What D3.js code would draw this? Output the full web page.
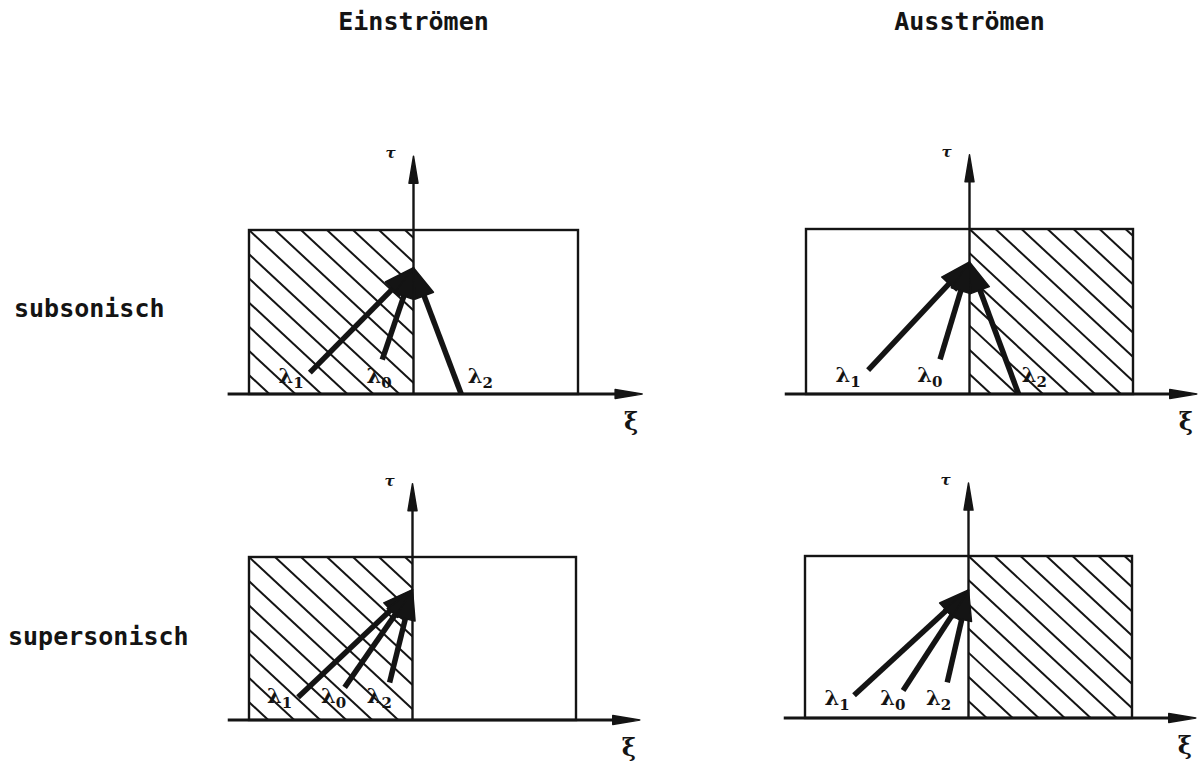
<!DOCTYPE html>
<html><head><meta charset="utf-8">
<script src="https://cdn.jsdelivr.net/npm/d3@7"></script>
<style>body{margin:0;background:#fff}</style>
</head><body><svg id="c" width="1204" height="767"></svg>
<script>
// ---- data ----
const columnTitles = ["Einströmen", "Ausströmen"];
const rowLabels = ["subsonisch", "supersonisch"];
const hatchSide = [-1, 1, -1, 1];          // -1 = hatched left half, +1 = right half
const apexTau = [0.77, 0.80, 0.80, 0.79];
const rayIndex = ["1", "0", "2"];
const rayEndXi = [[-0.63, -0.19, 0.29], [-0.62, -0.18, 0.30], [-0.70, -0.415, -0.14], [-0.70, -0.40, -0.13]];
const rayEndTau = [[0.13, 0.21, 0.0], [0.145, 0.21, 0.0], [0.14, 0.20, 0.23], [0.14, 0.17, 0.22]];
const labelXi = [[-0.82, -0.285, 0.33], [-0.82, -0.32, 0.32], [-0.89, -0.56, -0.28], [-0.88, -0.54, -0.26]];
const labelTau = [0.067, 0.073, 0.104, 0.08];
const axisXiRange = [-1.13, 1.39];
const axisTauMax = 1.45;

// ---- layout ----
const frames = [
  {l: 249, r: 578, b: 394, t: 230},
  {l: 806, r: 1133, b: 394, t: 229},
  {l: 249, r: 576, b: 720, t: 557},
  {l: 805, r: 1132, b: 718, t: 556}
];
const ink = "#141414";
const svg = d3.select("#c");

function arrowHead(g, x1, y1, x2, y2, L, w, lineW) {
  const dx = x2 - x1, dy = y2 - y1, len = Math.hypot(dx, dy);
  const ux = dx / len, uy = dy / len, nx = -uy, ny = ux;
  const bx = x2 - ux * L, by = y2 - uy * L;
  g.append("line").attr("x1", x1).attr("y1", y1).attr("x2", bx + ux * 2).attr("y2", by + uy * 2)
    .attr("stroke", ink).attr("stroke-width", lineW).attr("stroke-linecap", "butt");
  g.append("path")
    .attr("d", d3.line()([[x2, y2], [bx + nx * w, by + ny * w], [bx - nx * w, by - ny * w]]) + "Z")
    .attr("fill", ink).attr("stroke", ink).attr("stroke-width", 1.5).attr("stroke-linejoin", "round");
}

frames.forEach((f, i) => {
  const x = d3.scaleLinear().domain([-1, 1]).range([f.l, f.r]);
  const y = d3.scaleLinear().domain([0, 1]).range([f.b, f.t]);
  const g = svg.append("g");

  // hatch
  const hx0 = hatchSide[i] < 0 ? x(-1) : x(0), hx1 = hatchSide[i] < 0 ? x(0) : x(1);
  const clipId = "clip" + i;
  svg.append("clipPath").attr("id", clipId).append("rect")
    .attr("x", hx0).attr("y", y(1)).attr("width", hx1 - hx0).attr("height", y(0) - y(1));
  const hg = g.append("g").attr("clip-path", `url(#${clipId})`);
  const H = y(0) - y(1), slope = 0.93, step = 26;
  const run = H / slope;
  for (let k = -Math.ceil(run / step) * step; k <= hx1 - hx0; k += step) {
    hg.append("line")
      .attr("x1", hx0 + k).attr("y1", y(1))
      .attr("x2", hx0 + k + run).attr("y2", y(0))
      .attr("stroke", ink).attr("stroke-width", 2);
  }

  // rectangle
  g.append("rect").attr("x", x(-1)).attr("y", y(1))
    .attr("width", x(1) - x(-1)).attr("height", y(0) - y(1))
    .attr("fill", "none").attr("stroke", ink).attr("stroke-width", 2.4);

  // horizontal axis (xi)
  arrowHead(g, x(axisXiRange[0]), y(0), x(axisXiRange[1]), y(0), 27, 4.5, 2.8);
  // vertical axis (tau)
  arrowHead(g, x(0), y(0), x(0), y(axisTauMax), 27, 4.5, 2.4);

  // axis labels
  g.append("text").attr("x", x(0) - 23).attr("y", y(axisTauMax) + 2)
    .attr("text-anchor", "middle").attr("font-family", "DejaVu Serif")
    .attr("font-style", "italic").attr("font-weight", "bold").attr("font-size", 15)
    .attr("fill", ink).text("τ");
  g.append("text").attr("x", x(axisXiRange[1]) - 11).attr("y", y(0) + 36)
    .attr("text-anchor", "middle").attr("font-family", "DejaVu Serif").attr("font-weight", "bold")
    .attr("font-size", 24).attr("fill", ink).text("ξ");

  // rays
  rayIndex.forEach((r, j) => {
    arrowHead(g, x(rayEndXi[i][j]), y(rayEndTau[i][j]), x(0), y(apexTau[i]), 30, 10, 5.5);
    const t = g.append("text").attr("x", x(labelXi[i][j])).attr("y", y(labelTau[i]))
      .attr("font-family", "DejaVu Serif").attr("font-weight", "bold").attr("font-size", 21).attr("fill", ink);
    t.append("tspan").text("λ");
    t.append("tspan").attr("font-size", 15).attr("dy", 5).text(r);
  });
});

// titles
columnTitles.forEach((s, c) => {
  svg.append("text").attr("x", [413.5, 969.5][c]).attr("y", 30).attr("text-anchor", "middle")
    .attr("font-family", "DejaVu Sans Mono").attr("font-weight", "bold").attr("font-size", 25)
    .attr("fill", ink).text(s);
});
rowLabels.forEach((s, r) => {
  svg.append("text").attr("x", [14, 8][r]).attr("y", [317, 645][r])
    .attr("font-family", "DejaVu Sans Mono").attr("font-weight", "bold").attr("font-size", 25)
    .attr("fill", ink).text(s);
});
</script></body></html>
